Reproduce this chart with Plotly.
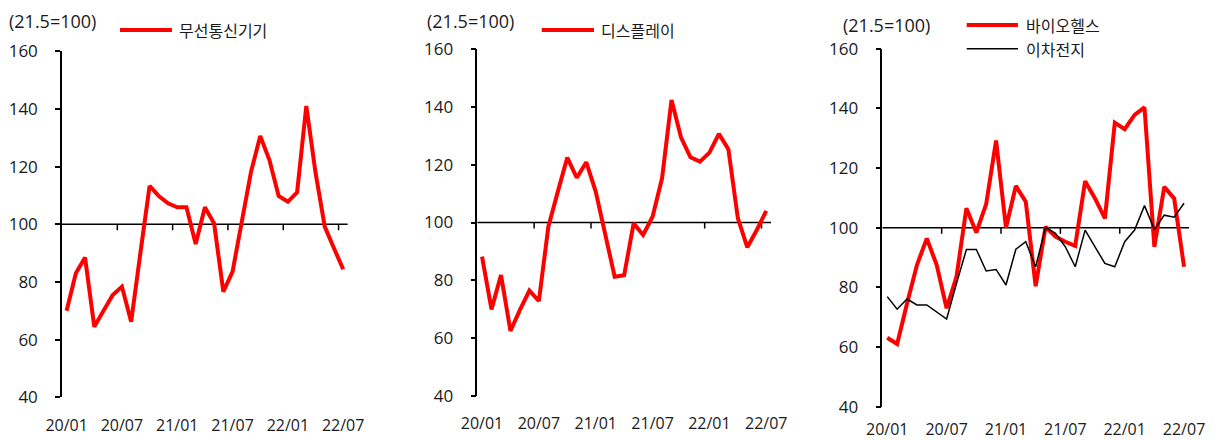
import plotly.graph_objects as go

W, H = 1218, 440

months = ["20/01", "20/02", "20/03", "20/04", "20/05", "20/06", "20/07", "20/08",
          "20/09", "20/10", "20/11", "20/12", "21/01", "21/02", "21/03", "21/04",
          "21/05", "21/06", "21/07", "21/08", "21/09", "21/10", "21/11", "21/12",
          "22/01", "22/02", "22/03", "22/04", "22/05", "22/06", "22/07"]
tick_labels = ["20/01", "20/07", "21/01", "21/07", "22/01", "22/07"]

wireless = [70, 83, 88.5, 64.5, 70, 75.5, 78.4, 66.2, 90, 113.3, 109.8, 107.3, 105.9,
            105.9, 93.2, 105.9, 100.3, 76.6, 83.6, 100.4, 118.2, 130.6, 122.3, 109.8,
            107.8, 111.1, 141, 117.9, 99.2, 91.7, 84.4]
display = [88.2, 69.9, 81.8, 62.4, 69.7, 76.4, 72.8, 98.6, 110.7, 122.5, 115.5, 120.9,
           110.7, 96.3, 81.2, 81.7, 99.7, 95.7, 102, 115.3, 142.4, 129.5, 122.6, 121.1,
           124.2, 130.7, 125.4, 101.5, 91.4, 97.4, 104]
biohealth = [63.1, 61, 74.6, 87.5, 96.4, 87.5, 73, 83.6, 106.5, 98.4, 107.9, 129.2, 100,
             114, 108.7, 80.4, 100.3, 97, 95.3, 93.9, 115.6, 109.8, 103.1, 135.2, 133,
             137.8, 140.3, 93.6, 113.7, 109.8, 86.9]
battery = [76.9, 72.7, 76.1, 74.1, 74.1, 71.6, 69.4, 81.3, 92.7, 92.7, 85.5, 86, 80.8,
           92.8, 95.3, 86.9, 100.1, 98.1, 93.6, 86.9, 99.2, 93.6, 88, 86.9, 95.3, 99.2,
           107.4, 99.4, 104.2, 103.5, 108.2]

unit_label = "(21.5=100)"

NUM_FONT = "Open Sans, Noto Sans CJK KR, sans-serif"
KR_FONT = "Noto Sans CJK KR, sans-serif"
TXT = "#1a1a1a"
RED = "#ff0000"


def px(x):
    return x / W


def py(y):
    return 1 - y / H


# panel geometry in pixels: (left, right, top, bottom)
panels = [
    dict(box=(62, 347.8, 51.3, 397.3), xstand=17,
         series=[("무선통신기기", wireless, RED, 4)],
         title=(8, 21), legend=[(120, 172, 30, 178)]),
    dict(box=(477.3, 771, 49.3, 395.7), xstand=16,
         series=[("디스플레이", display, RED, 4)],
         title=(426, 21), legend=[(541.7, 594, 30, 600)]),
    dict(box=(882.3, 1189, 48.7, 406.7), xstand=11,
         series=[("바이오헬스", biohealth, RED, 4), ("이차전지", battery, "#000000", 1.5)],
         title=(841.7, 25), legend=[(966.7, 1018, 25, 1025), (966.7, 1018, 48.7, 1025)]),
]

fig = go.Figure()
shapes = []
annotations = []

for i, p in enumerate(panels):
    n = "" if i == 0 else str(i + 1)
    l, r, t, b = p["box"]
    xa = "x" + n
    ya = "y" + n
    for name, vals, color, width in p["series"]:
        fig.add_trace(go.Scatter(x=months, y=vals, mode="lines", name=name,
                                 line=dict(color=color, width=width),
                                 xaxis=xa, yaxis=ya, showlegend=False))
    fig.update_layout(**{
        "xaxis" + n: dict(domain=[px(l), px(r)], anchor=ya, type="category",
                          range=[-0.5, len(months) - 0.5], showline=False,
                          showgrid=False, zeroline=False, ticks="",
                          tickvals=tick_labels, ticktext=tick_labels,
                          tickfont=dict(family=NUM_FONT, size=16, color=TXT),
                          ticklabelstandoff=p["xstand"], automargin=False),
        "yaxis" + n: dict(domain=[py(b), py(t)], anchor=xa, range=[40, 160],
                          dtick=20, tick0=40, showline=True, linecolor="#000000",
                          linewidth=1.5, ticks="outside", ticklen=5, tickwidth=1.5,
                          tickcolor="#000000", showgrid=False, zeroline=False,
                          tickfont=dict(family=NUM_FONT, size=17, color=TXT),
                          ticklabelstandoff=14, automargin=False),
    })
    # horizontal axis line at 100 with category-boundary ticks
    shapes.append(dict(type="line", xref=xa, yref=ya, x0=-0.5, x1=len(months) - 0.5,
                       y0=100, y1=100, line=dict(color="#000000", width=1.5),
                       layer="below"))
    for k in range(6, len(months), 6):
        shapes.append(dict(type="line", xref=xa, yref=ya, ysizemode="pixel",
                           yanchor=100, x0=k - 0.5, x1=k - 0.5, y0=0, y1=-6,
                           line=dict(color="#000000", width=1.5), layer="below"))
    # unit label
    tx, ty = p["title"]
    annotations.append(dict(text=unit_label, xref="paper", yref="paper", x=px(tx),
                            y=py(ty), xanchor="left", yanchor="middle", showarrow=False,
                            borderpad=0, font=dict(family=NUM_FONT, size=18, color=TXT)))
    # legend
    for (x0, x1, yy, txx), (name, vals, color, width) in zip(p["legend"], p["series"]):
        shapes.append(dict(type="line", xref="paper", yref="paper", x0=px(x0),
                           x1=px(x1), y0=py(yy), y1=py(yy),
                           line=dict(color=color, width=width)))
        annotations.append(dict(text=name, xref="paper", yref="paper", x=px(txx),
                                y=py(yy), xanchor="left", yanchor="middle",
                                showarrow=False, borderpad=0,
                                font=dict(family=KR_FONT, size=16, color=TXT)))

fig.update_layout(width=W, height=H,
                  margin=dict(l=0, r=0, t=0, b=0, pad=0, autoexpand=False),
                  paper_bgcolor="white", plot_bgcolor="white", showlegend=False,
                  shapes=shapes, annotations=annotations,
                  font=dict(family=NUM_FONT, color=TXT))

fig.write_html("out.html", config={"displayModeBar": False},
               post_script="document.body.style.margin='0';"
                           "document.body.style.overflow='hidden';")
